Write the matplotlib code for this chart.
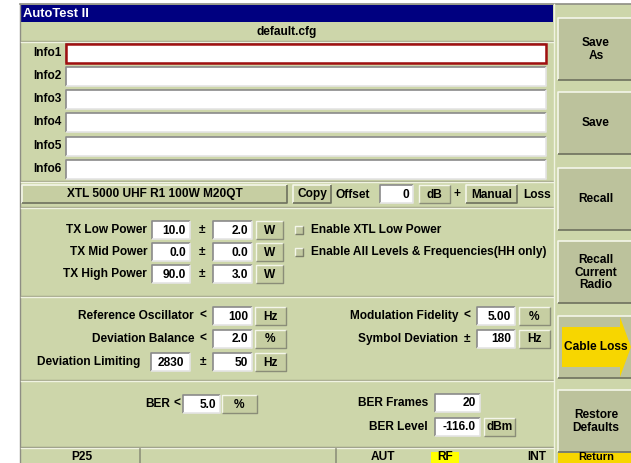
import matplotlib
matplotlib.use("Agg")
import matplotlib.pyplot as plt
from matplotlib.patches import Rectangle, Polygon

plt.rcParams['font.family'] = ['Liberation Sans Narrow', 'Liberation Sans', 'DejaVu Sans']
plt.rcParams['font.weight'] = 'bold'

# screen content
title = 'AutoTest II'
cfg_name = 'default.cfg'
info_labels = ['Info1', 'Info2', 'Info3', 'Info4', 'Info5', 'Info6']
radio_name = 'XTL 5000 UHF R1 100W M20QT'
offset_value = '0'

tx_labels = ['TX Low Power', 'TX Mid Power', 'TX High Power']
tx_values = ['10.0', '0.0', '90.0']
tx_tols = ['2.0', '0.0', '3.0']
tx_unit = 'W'
check_labels = ['Enable XTL Low Power', 'Enable All Levels & Frequencies(HH only)']

left_labels = ['Reference Oscillator', 'Deviation Balance', 'Deviation Limiting']
left_ops = ['<', '<', '±']
left_nominal = [None, None, '2830']
left_values = ['100', '2.0', '50']
left_units = ['Hz', '%', 'Hz']

right_labels = ['Modulation Fidelity', 'Symbol Deviation']
right_ops = ['<', '±']
right_values = ['5.00', '180']
right_units = ['%', 'Hz']

ber_limit = '5.0'
ber_frames = '20'
ber_level = '-116.0'

status_items = ['P25', 'AUT', 'RF', 'INT']
softkeys = ['Save\nAs', 'Save', 'Recall', 'Recall\nCurrent\nRadio', 'Cable Loss', 'Restore\nDefaults']

BG = '#cdd6aa'
BTN = '#c6cea2'
KEY = '#bcc29c'
NAVY = '#000080'
YEL = '#f7d600'
FS = 8.6

fig = plt.figure(figsize=(6.31, 4.63), dpi=100)
ax = fig.add_axes([0, 0, 1, 1])
ax.set_xlim(0, 631)
ax.set_ylim(463, 0)
ax.axis('off')


def rect(x0, y0, x1, y1, fc, ec='none', lw=0, z=1):
    ax.add_patch(Rectangle((x0, y0), x1 - x0, y1 - y0, facecolor=fc, edgecolor=ec, linewidth=lw, zorder=z))


def bevel(x0, y0, x1, y1, tl, br, lw=1.2, z=3):
    ax.plot([x0, x0, x1], [y1, y0, y0], color=tl, lw=lw, zorder=z, solid_capstyle='butt')
    ax.plot([x0, x1, x1], [y1, y1, y0], color=br, lw=lw, zorder=z, solid_capstyle='butt')


def field(x0, y0, x1, y1, txt=None, align='right'):
    rect(x0, y0, x1, y1, 'white', z=2)
    bevel(x0, y0, x1, y1, '#8a8a8a', '#e4e4e4')
    if txt is not None:
        if align == 'right':
            ax.text(x1 - 4, (y0 + y1) / 2 + 0.5, txt, ha='right', va='center', fontsize=FS, zorder=4)
        else:
            ax.text((x0 + x1) / 2, (y0 + y1) / 2 + 0.5, txt, ha='center', va='center', fontsize=FS, zorder=4)


def button(x0, y0, x1, y1, txt, fc=BTN, fs=FS):
    rect(x0, y0, x1, y1, fc, z=2)
    bevel(x0, y0, x1, y1, '#f4f6ea', '#6e715e')
    ax.text((x0 + x1) / 2, (y0 + y1) / 2 + 0.5, txt, ha='center', va='center', fontsize=fs, zorder=4,
            linespacing=1.05)


def unit_box(x0, y0, x1, y1, txt):
    rect(x0, y0, x1, y1, BTN, z=2)
    bevel(x0, y0, x1, y1, '#f4f6ea', '#8a8d78', lw=1.0)
    ax.text((x0 + x1) / 2, (y0 + y1) / 2 + 0.5, txt, ha='center', va='center', fontsize=FS, zorder=4)


def hline(y, x0=21, x1=553, c='#f0f3e2', c2='#9ea184'):
    ax.plot([x0, x1], [y, y], color=c2, lw=1.0, zorder=3)
    ax.plot([x0, x1], [y + 1, y + 1], color=c, lw=1.0, zorder=3)


# window background
rect(0, 0, 631, 463, 'white', z=0)
rect(20, 4, 631, 463, BG, z=0)
ax.plot([20, 631], [4, 4], color='#8e8e84', lw=1.2, zorder=3)
ax.plot([20, 20], [4, 463], color='#8e8e84', lw=1.0, zorder=3)

# title bar and header
rect(21, 5, 553, 22, NAVY, z=1)
ax.text(23, 14, title, ha='left', va='center', fontsize=9.4, color='white', zorder=4)
ax.text(287, 32, cfg_name, ha='center', va='center', fontsize=FS, zorder=4)
hline(41)

# info rows
info_y = [53, 76, 99, 122, 146, 169]
for lab, y in zip(info_labels, info_y):
    ax.text(62, y, lab, ha='right', va='center', fontsize=FS, zorder=4)
    field(66, y - 9.5, 546, y + 9.5)
rect(66, 43.5, 546, 62.5, 'none', ec='#a01010', lw=1.8, z=4)
hline(181)

# radio / cable loss row
button(22, 185, 287, 203, radio_name)
button(293, 185, 331, 203, 'Copy')
ax.text(336, 194.5, 'Offset', ha='left', va='center', fontsize=FS, zorder=4)
field(380, 185, 413, 203, offset_value)
unit_box(419, 185, 450, 203, 'dB')
ax.text(457, 194.5, '+', ha='center', va='center', fontsize=FS, zorder=4)
button(466, 185, 517, 203, 'Manual')
ax.text(523, 194.5, 'Loss', ha='left', va='center', fontsize=FS, zorder=4)
hline(207)

# TX power rows
tx_y = [230, 252, 274]
for lab, v, t, y in zip(tx_labels, tx_values, tx_tols, tx_y):
    ax.text(147, y, lab, ha='right', va='center', fontsize=FS, zorder=4)
    field(152, y - 9, 190, y + 9, v)
    ax.text(202, y, '±', ha='center', va='center', fontsize=FS, zorder=4)
    field(213, y - 9, 252, y + 9, t)
    unit_box(256, y - 9, 283, y + 9, tx_unit)
for lab, y in zip(check_labels, tx_y[:2]):
    rect(295, y - 4, 303, y + 4, '#c2c9a0', z=2)
    bevel(295, y - 4, 303, y + 4, '#f4f6ea', '#7c7f6a', lw=1.0)
    ax.text(311, y, lab, ha='left', va='center', fontsize=FS, zorder=4)
hline(296)

# measurement limits
meas_y = [316, 339, 362]
for lab, op, nom, v, u, y in zip(left_labels, left_ops, left_nominal, left_values, left_units, meas_y):
    if nom is None:
        ax.text(194, y, lab, ha='right', va='center', fontsize=FS, zorder=4)
    else:
        ax.text(140, y, lab, ha='right', va='center', fontsize=FS, zorder=4)
        field(151, y - 9, 190, y + 9, nom, align='center')
    ax.text(203, y, op, ha='center', va='center', fontsize=FS, zorder=4)
    field(213, y - 9, 252, y + 9, v)
    unit_box(255, y - 9, 286, y + 9, u)
for lab, op, v, u, y in zip(right_labels, right_ops, right_values, right_units, meas_y):
    ax.text(458, y, lab, ha='right', va='center', fontsize=FS, zorder=4)
    ax.text(467, y, op, ha='center', va='center', fontsize=FS, zorder=4)
    field(477, y - 9, 515, y + 9, v)
    unit_box(519, y - 9, 550, y + 9, u)
hline(380)

# BER
ax.text(170, 404, 'BER', ha='right', va='center', fontsize=FS, zorder=4)
ax.text(177, 404, '<', ha='center', va='center', fontsize=FS, zorder=4)
field(183, 395, 220, 413, ber_limit)
unit_box(222, 395, 257, 413, '%')
ax.text(428, 403, 'BER Frames', ha='right', va='center', fontsize=FS, zorder=4)
field(435, 394, 480, 412, ber_frames)
ax.text(428, 427, 'BER Level', ha='right', va='center', fontsize=FS, zorder=4)
field(435, 418, 480, 436, ber_level)
unit_box(484, 418, 515, 436, 'dBm')
hline(447, c='#f0f3e2', c2='#8e917a')

# status bar
ax.plot([140, 140], [449, 463], color='#8e917a', lw=1.2, zorder=3)
ax.plot([336, 336], [449, 463], color='#8e917a', lw=1.2, zorder=3)
rect(431, 452, 459, 463, '#ffff00', z=2)
for txt, x in zip(status_items, [82, 383, 445, 537]):
    ax.text(x, 457.5, txt, ha='center', va='center', fontsize=FS, zorder=4)

# softkey panel
rect(554, 4, 631, 463, BG, z=1)
ax.plot([554, 554], [4, 463], color='#f0f3e2', lw=1.0, zorder=3)
key_y = [(18, 80), (92, 154), (168, 230), (241, 303), (316, 378), (390, 452)]
for lab, (y0, y1) in zip(softkeys, key_y):
    rect(558, y0, 633, y1, KEY, z=2)
    bevel(558, y0, 633, y1, '#f4f6ea', '#6e715e')
    if lab == 'Cable Loss':
        ax.add_patch(Polygon([(562, y0 + 11), (620, y0 + 11), (620, y0 + 1), (631, (y0 + y1) / 2),
                              (620, y1 - 1), (620, y1 - 11), (562, y1 - 11)],
                             closed=True, facecolor=YEL, edgecolor='none', zorder=3))
    ax.text(596, (y0 + y1) / 2 + 0.5, lab, ha='center', va='center', fontsize=FS, zorder=4,
            linespacing=1.1)
rect(558, 453, 631, 463, YEL, z=2)
ax.text(596, 457.5, 'Return', ha='center', va='center', fontsize=8.0, zorder=4)

fig.savefig('out.png', dpi=100)
